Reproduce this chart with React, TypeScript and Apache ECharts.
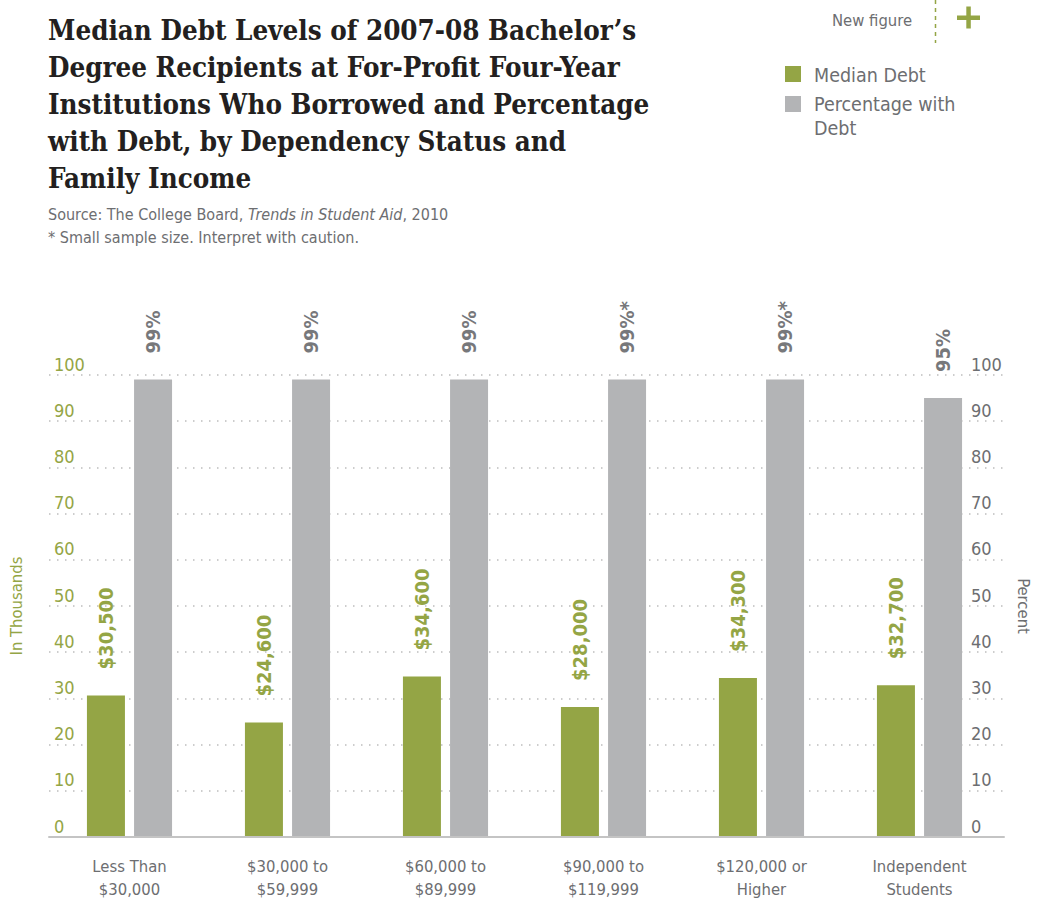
import React, { useEffect, useRef } from "react";
import * as echarts from "echarts";

const categories = [
  "Less Than\n$30,000",
  "$30,000 to\n$59,999",
  "$60,000 to\n$89,999",
  "$90,000 to\n$119,999",
  "$120,000 or\nHigher",
  "Independent\nStudents",
];
const medianDebtThousands = [30.5, 24.6, 34.6, 28.0, 34.3, 32.7];
const percentWithDebt = [99, 99, 99, 99, 99, 95];
const smallSample = [false, false, false, true, true, false];
const seriesNames = ["Median Debt", "Percentage with Debt"];
const axisMin = 0;
const axisMax = 100;
const axisInterval = 10;

const titleLines = [
  "Median Debt Levels of 2007-08 Bachelor\u2019s",
  "Degree Recipients at For-Profit Four-Year",
  "Institutions Who Borrowed and Percentage",
  "with Debt, by Dependency Status and",
  "Family Income",
];

const GREEN = "#94a545";
const GRAY_BAR = "#b3b4b6";
const GRAY_TEXT = "#6d6e71";
const SANS =
  "'Liberation Sans Narrow', 'DejaVu Sans Condensed', 'Roboto Condensed', 'Liberation Sans', sans-serif";
const SERIF = "'DejaVu Serif Condensed', 'DejaVu Serif', serif";

export default function App() {
  const ref = useRef<HTMLDivElement>(null);
  useEffect(() => {
    document.body.style.margin = "0";
    if (!ref.current) return;
    const chart = echarts.init(ref.current, undefined, { renderer: "svg" });
    const splitStyle = {
      show: true,
      lineStyle: { color: "#bdbdbd", width: 1.5, type: [1.5, 6.5] as any },
    };
    chart.setOption({
      animation: false,
      backgroundColor: "#ffffff",
      title: {
        text: titleLines.join("\n"),
        left: 48,
        top: 11,
        padding: 0,
        textStyle: {
          fontFamily: SERIF,
          fontSize: 27.5,
          fontWeight: "bold",
          lineHeight: 37,
          color: "#231f20",
        },
      },
      grid: [
        { left: 43, right: 38, top: 375, bottom: 64 },
        { left: 50.5, right: 43.5, top: 375, bottom: 64 },
      ],
      xAxis: [
        {
          gridIndex: 0,
          type: "value",
          min: 0,
          max: 1,
          axisLine: { show: true, onZero: false, lineStyle: { color: "#c4c4c4", width: 2 } },
          axisTick: { show: false },
          axisLabel: { show: false },
          splitLine: { show: false },
        },
        {
          gridIndex: 1,
          type: "category",
          data: categories,
          axisLine: { show: false },
          axisTick: { show: false },
          axisLabel: {
            color: GRAY_TEXT,
            fontFamily: SANS,
            fontSize: 16.5,
            lineHeight: 23,
            margin: 19,
          },
        },
      ],
      yAxis: [
        {
          gridIndex: 0,
          type: "value",
          position: "left",
          min: axisMin,
          max: axisMax,
          interval: axisInterval,
          axisLine: { show: false },
          axisTick: { show: false },
          splitLine: splitStyle,
          axisLabel: {
            inside: true,
            margin: 5,
            verticalAlign: "bottom",
            padding: [0, 0, 2, 0],
            color: GREEN,
            fontFamily: SANS,
            fontSize: 18,
          },
          name: "In Thousands",
          nameLocation: "middle",
          nameGap: 24,
          nameTextStyle: { color: GREEN, fontFamily: SANS, fontSize: 16.5 },
        },
        {
          gridIndex: 0,
          type: "value",
          position: "right",
          min: axisMin,
          max: axisMax,
          interval: axisInterval,
          axisLine: { show: false },
          axisTick: { show: false },
          splitLine: { show: false },
          axisLabel: {
            inside: true,
            margin: 33,
            align: "left",
            verticalAlign: "bottom",
            padding: [0, 0, 2, 0],
            color: GRAY_TEXT,
            fontFamily: SANS,
            fontSize: 18,
          },
          name: "Percent",
          nameLocation: "middle",
          nameRotate: -90,
          nameGap: 11,
          nameTextStyle: { color: GRAY_TEXT, fontFamily: SANS, fontSize: 16.5 },
        },
        { gridIndex: 1, type: "value", min: axisMin, max: axisMax, show: false },
        { gridIndex: 1, type: "value", min: axisMin, max: axisMax, show: false },
      ],
      series: [
        {
          name: seriesNames[0],
          type: "bar",
          xAxisIndex: 1,
          yAxisIndex: 2,
          data: medianDebtThousands,
          barWidth: 38,
          barGap: "24%",
          itemStyle: { color: GREEN },
          label: {
            show: true,
            position: "top",
            distance: 26,
            rotate: 90,
            align: "left",
            verticalAlign: "middle",
            color: GREEN,
            fontFamily: SANS,
            fontSize: 20,
            fontWeight: "bold",
            formatter: (p: any) =>
              "$" + Math.round(p.value * 1000).toLocaleString("en-US"),
          },
        },
        {
          name: seriesNames[1],
          type: "bar",
          xAxisIndex: 1,
          yAxisIndex: 3,
          data: percentWithDebt,
          barWidth: 38,
          itemStyle: { color: GRAY_BAR },
          label: {
            show: true,
            position: "top",
            distance: 26,
            rotate: 90,
            align: "left",
            verticalAlign: "middle",
            color: "#77787b",
            fontFamily: SANS,
            fontSize: 20,
            fontWeight: "bold",
            formatter: (p: any) =>
              p.value + "%" + (smallSample[p.dataIndex] ? "*" : ""),
          },
        },
      ],
      graphic: [
        {
          type: "text",
          x: 48,
          y: 203,
          style: {
            text:
              "{n|Source: The College Board, }{i|Trends in Student Aid}{n|, 2010}\n{n|* Small sample size. Interpret with caution.}",
            rich: {
              n: { fontFamily: SANS, fontSize: 16, fill: GRAY_TEXT, lineHeight: 23 },
              i: {
                fontFamily: SANS,
                fontSize: 16,
                fontStyle: "italic",
                fill: GRAY_TEXT,
                lineHeight: 23,
              },
            },
          },
        },
        { type: "rect", shape: { x: 785, y: 66, width: 16, height: 16 }, style: { fill: GREEN } },
        {
          type: "text",
          x: 814,
          y: 75,
          style: {
            text: seriesNames[0],
            fontFamily: SANS,
            fontSize: 19.5,
            fill: GRAY_TEXT,
            verticalAlign: "middle",
          },
        },
        { type: "rect", shape: { x: 785, y: 96, width: 16, height: 16 }, style: { fill: GRAY_BAR } },
        {
          type: "text",
          x: 814,
          y: 92,
          style: {
            text: "Percentage with\nDebt",
            fontFamily: SANS,
            fontSize: 19.5,
            lineHeight: 24,
            fill: GRAY_TEXT,
            verticalAlign: "top",
          },
        },
        {
          type: "text",
          x: 832,
          y: 20,
          style: {
            text: "New figure",
            fontFamily: SANS,
            fontSize: 16.5,
            fill: GRAY_TEXT,
            verticalAlign: "middle",
          },
        },
        {
          type: "line",
          shape: { x1: 935.5, y1: 0, x2: 935.5, y2: 43 },
          style: { stroke: GREEN, lineWidth: 1.5, lineDash: [4, 4] },
        },
        { type: "rect", shape: { x: 957, y: 15.5, width: 23, height: 4.5 }, style: { fill: GREEN } },
        { type: "rect", shape: { x: 966.3, y: 6.5, width: 4.5, height: 22 }, style: { fill: GREEN } },
      ],
    });
    return () => chart.dispose();
  }, []);
  return <div ref={ref} style={{ width: 1042, height: 901 }} />;
}
